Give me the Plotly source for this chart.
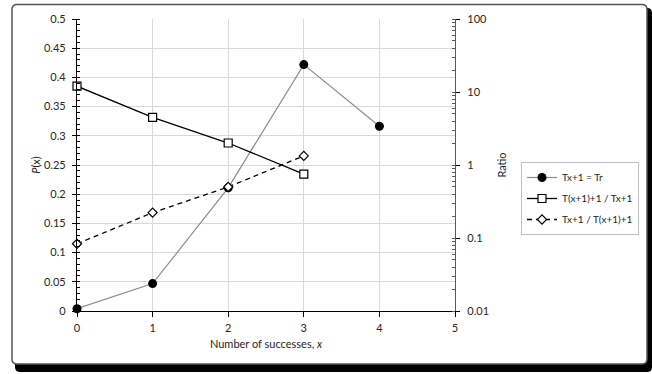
import plotly.graph_objects as go

x_vals = [0, 1, 2, 3, 4]
p_x = [0.0039, 0.0469, 0.2109, 0.4219, 0.3164]
x_ratio = [0, 1, 2, 3]
ratio_up = [12, 4.5, 2, 0.75]
ratio_down = [0.0833, 0.2222, 0.5, 1.3333]
names = ["Tx+1 = Tr", "T(x+1)+1 / Tx+1", "Tx+1 / T(x+1)+1"]

W, H = 652, 374
L, R, T, B = 77, 455, 19, 311

def px(xp):
    return (xp - L) / (R - L)

def py(yp):
    return (B - yp) / (B - T)

FONT = "Lato"
FS = 11
fig = go.Figure()

fig.add_trace(go.Scatter(x=x_vals, y=p_x, name=names[0], mode="lines+markers", legendgroup="a",
                         line=dict(color="#8c8c8c", width=1.2),
                         marker=dict(symbol="circle", size=9, color="black"),
                         cliponaxis=False))
fig.add_trace(go.Scatter(x=x_ratio, y=ratio_up, name=names[1], mode="lines+markers", yaxis="y2", legendgroup="b",
                         line=dict(color="black", width=1.3),
                         marker=dict(symbol="square", size=8, color="white", line=dict(color="black", width=1.2)),
                         cliponaxis=False))
fig.add_trace(go.Scatter(x=x_ratio, y=ratio_down, name=names[2], mode="lines+markers", yaxis="y2", legendgroup="c",
                         line=dict(color="black", width=1.3, dash="5px,4px"),
                         marker=dict(symbol="diamond", size=7, color="white", line=dict(color="black", width=1.2)),
                         cliponaxis=False))

def rounded(x0, y0, x1, y1, r):
    X0, X1 = px(x0), px(x1)
    Y0, Y1 = py(y0), py(y1)
    rx = r / (R - L)
    ry = r / (B - T)
    return (f"M {X0+rx},{Y0} L {X1-rx},{Y0} Q {X1},{Y0} {X1},{Y0-ry} "
            f"L {X1},{Y1+ry} Q {X1},{Y1} {X1-rx},{Y1} L {X0+rx},{Y1} "
            f"Q {X0},{Y1} {X0},{Y1+ry} L {X0},{Y0-ry} Q {X0},{Y0} {X0+rx},{Y0} Z")

shapes = [
    dict(type="path", xref="paper", yref="paper", path=rounded(15, 8, 652, 372, 5),
         fillcolor="black", line=dict(width=0), layer="below"),
    dict(type="path", xref="paper", yref="paper", path=rounded(12, 4.5, 647, 364, 5),
         fillcolor="white", line=dict(color="#555555", width=1.5), layer="below"),
]

fig.update_layout(
    width=W, height=H,
    margin=dict(l=L, r=W - R, t=T, b=H - B, autoexpand=False),
    paper_bgcolor="white", plot_bgcolor="white",
    font=dict(family=FONT, size=FS, color="#262626"),
    shapes=shapes,
    showlegend=True,
    legend=dict(x=px(521), y=py(162), xanchor="left", yanchor="top",
                bordercolor="#bfbfbf", borderwidth=1, bgcolor="white",
                font=dict(size=10), tracegroupgap=2, itemwidth=30),
    xaxis=dict(range=[0, 5], dtick=1, showgrid=True, gridcolor="#d9d9d9", gridwidth=1,
               showline=True, linecolor="black", linewidth=1.2, zeroline=False,
               ticks="outside", ticklen=5, tickcolor="black", ticklabelstandoff=2,
               title=dict(text="Number of successes, <i>x</i>", standoff=7, font=dict(size=FS))),
    yaxis=dict(range=[0, 0.5], dtick=0.05, showgrid=True, gridcolor="#d9d9d9", gridwidth=1,
               showline=True, linecolor="black", linewidth=1.2, zeroline=False,
               ticks="outside", ticklen=4, tickcolor="black", ticklabelstandoff=4,
               minor=dict(dtick=0.01, ticks="inside", ticklen=3, tickcolor="black", showgrid=False),
               title=dict(text="<i>P</i>(x)", standoff=1, font=dict(size=FS))),
    yaxis2=dict(type="log", range=[-2, 2], overlaying="y", side="right", showgrid=False,
                showline=True, linecolor="#595959", linewidth=1.2, zeroline=False,
                tickvals=[0.01, 0.1, 1, 10, 100], ticktext=["0.01", "0.1", "1", "10", "100"],
                ticks="outside", ticklen=4, tickcolor="black", ticklabelstandoff=5,
                minor=dict(ticks="inside", ticklen=3, tickcolor="#595959", dtick="D1", showgrid=False),
                title=dict(text="Ratio", standoff=10, font=dict(size=FS))),
)

fig.write_html("out.html")
